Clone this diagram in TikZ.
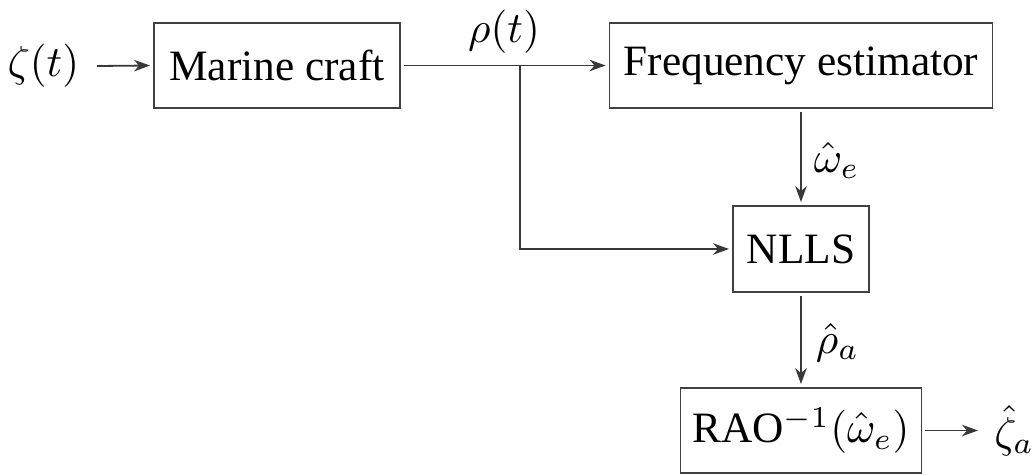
\documentclass[tikz,border=0pt]{standalone}
\usepackage{fontspec}
\setmainfont{Liberation Serif}
\usetikzlibrary{arrows.meta}
\tikzset{
  blk/.style={draw=black!75, line width=1.8pt, inner sep=0pt, minimum height=19.63pt},
  lbl/.style={inner sep=0pt},
  conn/.style={draw=black!78, line width=1.8pt},
  arr/.style={conn, -{Stealth[length=16pt,width=11.5pt,inset=5pt]}}
}
\begin{document}
\begin{tikzpicture}[x=0.230947pt,y=-0.230947pt,scale=4.33,every node/.append style={transform shape}]
\useasboundingbox (0,0) rectangle (1033,474);
\node[blk, minimum width=56.81pt] (mc) at (277,65.5) {Marine craft};
\node[blk, minimum width=88.45pt] (fe) at (801,65.5) {Frequency estimator};
\node[blk, minimum width=31.41pt, minimum height=19.86pt] (nlls) at (801,249) {NLLS};
\node[blk, minimum width=55.66pt] (rao) at (801,430.5) {RAO$^{-1}(\hat{\omega}_e)$};
\node[lbl, anchor=east, inner xsep=3.93pt] (zeta) at (97,66) {$\zeta(t)$};
\node[lbl] (rho) at (504,32) {$\rho(t)$};
\node[lbl, anchor=base west] (we) at (813,172) {$\hat{\omega}_e$};
\node[lbl, anchor=base west] (ra) at (815,353) {$\hat{\rho}_a$};
\node[lbl, anchor=base west, inner xsep=3.6pt] (za) at (978,447) {$\hat{\zeta}_a$};
\coordinate (br) at (520,65.5);
\draw[arr] (zeta.east) -- (mc.west);
\draw[arr] (mc.east) -- (fe.west);
\draw[arr] (br) |- (nlls.west);
\draw[arr] (fe.south) -- (nlls.north);
\draw[arr] (nlls.south) -- (rao.north);
\draw[arr] (rao.east) -- (rao.east -| za.west);
\end{tikzpicture}
\end{document}
